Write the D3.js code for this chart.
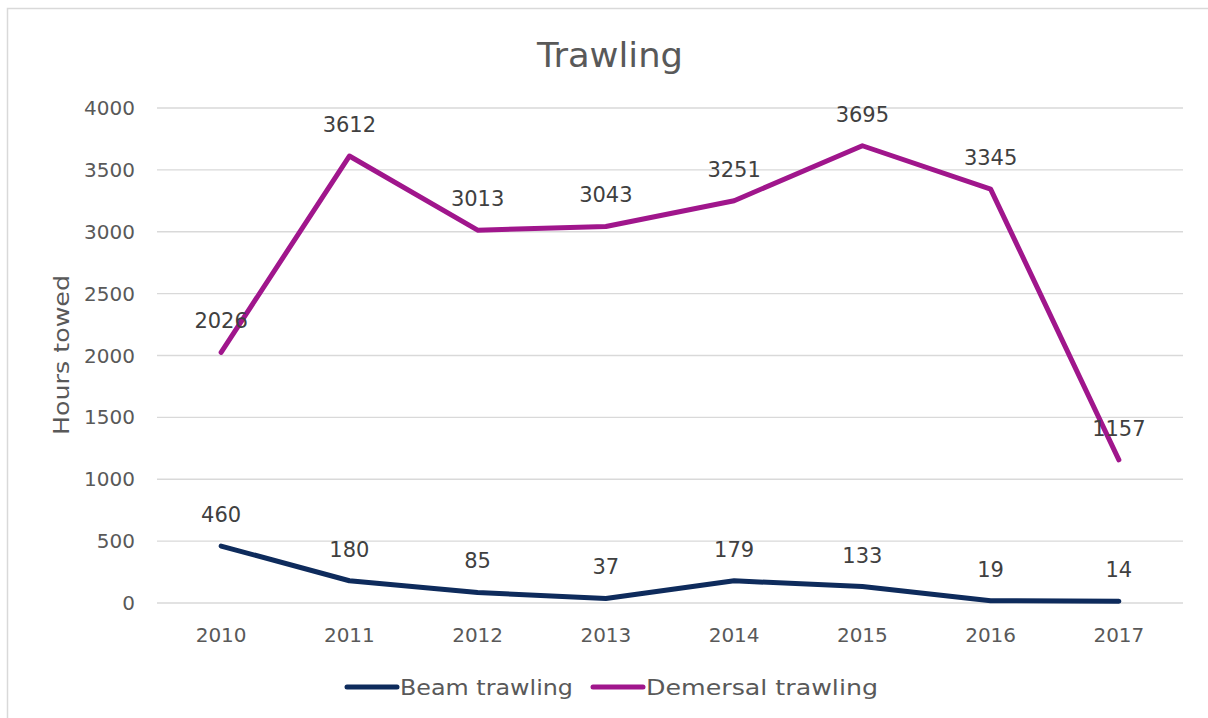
<!DOCTYPE html>
<html>
<head>
<meta charset="utf-8">
<title>Trawling</title>
<style>
  body { margin: 0; background: #ffffff; font-family: 'DejaVu Sans', sans-serif; }
  svg text { fill: #595959; }
</style>
<script src="https://d3js.org/d3.v7.min.js"></script>
</head>
<body>
<svg id="chart" width="1208" height="718"></svg>
<script>
  // chart data
  const years = ['2010', '2011', '2012', '2013', '2014', '2015', '2016', '2017'];
  const beamTrawling = [460, 180, 85, 37, 179, 133, 19, 14];
  const demersalTrawling = [2026, 3612, 3013, 3043, 3251, 3695, 3345, 1157];
  const yTicks = [0, 500, 1000, 1500, 2000, 2500, 3000, 3500, 4000];
  const seriesNames = ['Beam trawling', 'Demersal trawling'];

  const colors = ['#0e2b5c', '#a0168c'];
  const series = [beamTrawling, demersalTrawling];

  const svg = d3.select('#chart');
  const margin = { left: 157, right: 1183, top: 108, bottom: 603 };

  // outer chart frame (runs past the right and bottom of the view)
  svg.append('rect')
    .attr('x', 7.5).attr('y', 8.5)
    .attr('width', 1300).attr('height', 800)
    .attr('fill', 'none')
    .attr('stroke', '#d9d9d9')
    .attr('stroke-width', 1.5);

  const x = d3.scaleBand().domain(years).range([margin.left, margin.right]);
  const y = d3.scaleLinear().domain([0, 4000]).range([margin.bottom, margin.top]);

  // gridlines
  svg.append('g')
    .selectAll('line')
    .data(yTicks)
    .enter()
    .append('line')
    .attr('x1', margin.left).attr('x2', margin.right)
    .attr('y1', d => y(d)).attr('y2', d => y(d))
    .attr('stroke', '#d9d9d9')
    .attr('stroke-width', 1.3);

  // y tick labels
  svg.append('g')
    .selectAll('text')
    .data(yTicks)
    .enter()
    .append('text')
    .attr('x', 135)
    .attr('y', d => y(d))
    .attr('dy', '0.35em')
    .attr('text-anchor', 'end')
    .style('font-size', '20px')
    .text(d => d);

  // x tick labels
  svg.append('g')
    .selectAll('text')
    .data(years)
    .enter()
    .append('text')
    .attr('x', d => x(d) + x.bandwidth() / 2)
    .attr('y', 642)
    .attr('text-anchor', 'middle')
    .style('font-size', '20px')
    .text(d => d);

  // title
  svg.append('text')
    .attr('x', 610).attr('y', 67)
    .attr('text-anchor', 'middle')
    .attr('textLength', 146)
    .attr('lengthAdjust', 'spacingAndGlyphs')
    .style('font-size', '34px')
    .text('Trawling');

  // y axis title
  svg.append('text')
    .attr('transform', 'translate(69,355) rotate(-90)')
    .attr('text-anchor', 'middle')
    .attr('textLength', 160)
    .attr('lengthAdjust', 'spacingAndGlyphs')
    .style('font-size', '22px')
    .text('Hours towed');

  const line = d3.line()
    .x((d, i) => x(years[i]) + x.bandwidth() / 2)
    .y(d => y(d));

  series.forEach((vals, s) => {
    svg.append('path')
      .datum(vals)
      .attr('d', line)
      .attr('fill', 'none')
      .attr('stroke', colors[s])
      .attr('stroke-width', 5)
      .attr('stroke-linecap', 'round')
      .attr('stroke-linejoin', 'round');
  });

  // data labels above each point
  series.forEach((vals, s) => {
    svg.append('g')
      .selectAll('text')
      .data(vals)
      .enter()
      .append('text')
      .attr('x', (d, i) => x(years[i]) + x.bandwidth() / 2)
      .attr('y', d => y(d) - 24)
      .attr('text-anchor', 'middle')
      .style('font-size', '21px')
      .style('fill', '#404040')
      .text(d => d);
  });

  // legend
  const legendX = [347, 593];
  const legendLen = [173, 232];
  seriesNames.forEach((name, s) => {
    svg.append('line')
      .attr('x1', legendX[s]).attr('x2', legendX[s] + 50)
      .attr('y1', 687).attr('y2', 687)
      .attr('stroke', colors[s])
      .attr('stroke-width', 5)
      .attr('stroke-linecap', 'round');
    svg.append('text')
      .attr('x', legendX[s] + 53)
      .attr('y', 695)
      .attr('textLength', legendLen[s])
      .attr('lengthAdjust', 'spacingAndGlyphs')
      .style('font-size', '21px')
      .text(name);
  });
</script>
</body>
</html>
